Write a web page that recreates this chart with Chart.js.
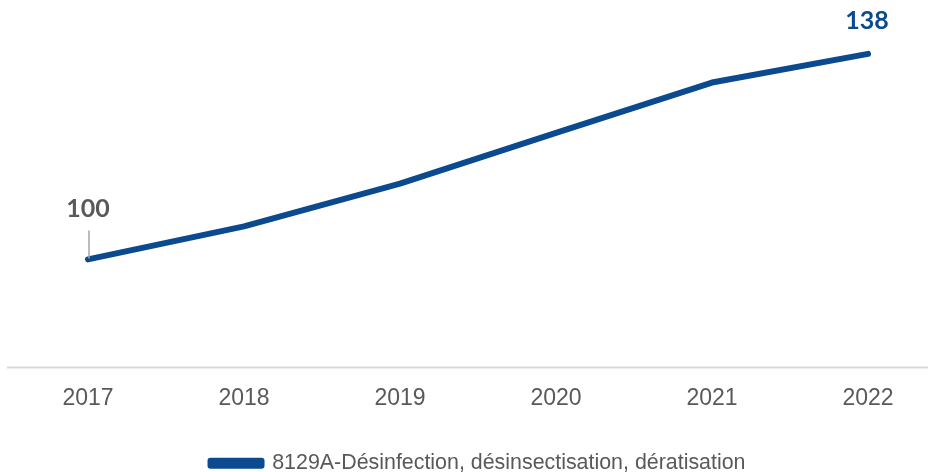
<!DOCTYPE html>
<html>
<head>
<meta charset="utf-8">
<script src="https://cdn.jsdelivr.net/npm/chart.js@4/dist/chart.umd.min.js"></script>
<style>
    html, body { margin: 0; padding: 0; background: #fff; }
    #wrap { width: 934px; height: 472px; }
</style>
</head>
<body>
<div id="wrap"><canvas id="chart"></canvas></div>
<script>
const years = ['2017', '2018', '2019', '2020', '2021', '2022']
const indexValues = [100, 106.1, 114, 123.4, 132.7, 138]
const seriesLabel = '8129A-Désinfection, désinsectisation, dératisation'
// only first and last points carry a label
const shownLabels = { 0: '100', 5: '138' }

const blue = '#0B4A8E'
const grey = '#595959'

// baseline across the whole width, like the office export
const baselinePlugin = {
    id: 'baseline',
    beforeDatasetsDraw(chart) {
        const { ctx, chartArea, width } = chart
        ctx.save()
        ctx.strokeStyle = '#D9D9D9'
        ctx.lineWidth = 2
        ctx.beginPath()
        ctx.moveTo(7, chartArea.bottom)
        ctx.lineTo(width - 6, chartArea.bottom)
        ctx.stroke()
        ctx.restore()
    }
}

const pointLabelsPlugin = {
    id: 'pointLabels',
    afterDatasetsDraw(chart) {
        const { ctx } = chart
        const meta = chart.getDatasetMeta(0)
        ctx.save()
        ctx.font = 'bold 25px Lato'
        ctx.textAlign = 'center'
        ctx.textBaseline = 'middle'
        for (const [i, text] of Object.entries(shownLabels)) {
            const pt = meta.data[i]
            if (i == 0) {
                // leader line up to the label
                ctx.strokeStyle = '#A6A6A6'
                ctx.lineWidth = 1.5
                ctx.beginPath()
                ctx.moveTo(pt.x + 1, pt.y - 1)
                ctx.lineTo(pt.x + 1, pt.y - 29)
                ctx.stroke()
                ctx.fillStyle = grey
                ctx.fillText(text, pt.x, pt.y - 50)
            } else {
                ctx.fillStyle = blue
                ctx.fillText(text, pt.x - 1, pt.y - 33)
            }
        }
        ctx.restore()
    }
}

new Chart(document.getElementById('chart'), {
    type: 'line',
    data: {
        labels: years,
        datasets: [{
            label: seriesLabel,
            data: indexValues,
            borderColor: blue,
            backgroundColor: blue,
            borderWidth: 6,
            borderCapStyle: 'round',
            borderJoinStyle: 'round',
            pointRadius: 0,
            tension: 0
        }]
    },
    options: {
        responsive: true,
        maintainAspectRatio: false,
        animation: false,
        layout: { padding: { top: 16, left: 88, right: 66, bottom: -12 } },
        scales: {
            x: {
                offset: false,
                grid: { display: false, drawTicks: false },
                border: { display: false },
                ticks: {
                    color: grey,
                    padding: 17,
                    font: { family: 'Liberation Sans', size: 23 }
                },
                afterFit: scale => { scale.height = 85 }
            },
            y: {
                display: false,
                min: 80,
                max: 145
            }
        },
        plugins: {
            legend: {
                position: 'bottom',
                labels: {
                    color: grey,
                    boxWidth: 51,
                    boxHeight: 5,
                    padding: 0,
                    font: { family: 'Liberation Sans', size: 21.4 }
                }
            },
            tooltip: { enabled: false }
        }
    },
    plugins: [baselinePlugin, pointLabelsPlugin]
})
</script>
</body>
</html>
